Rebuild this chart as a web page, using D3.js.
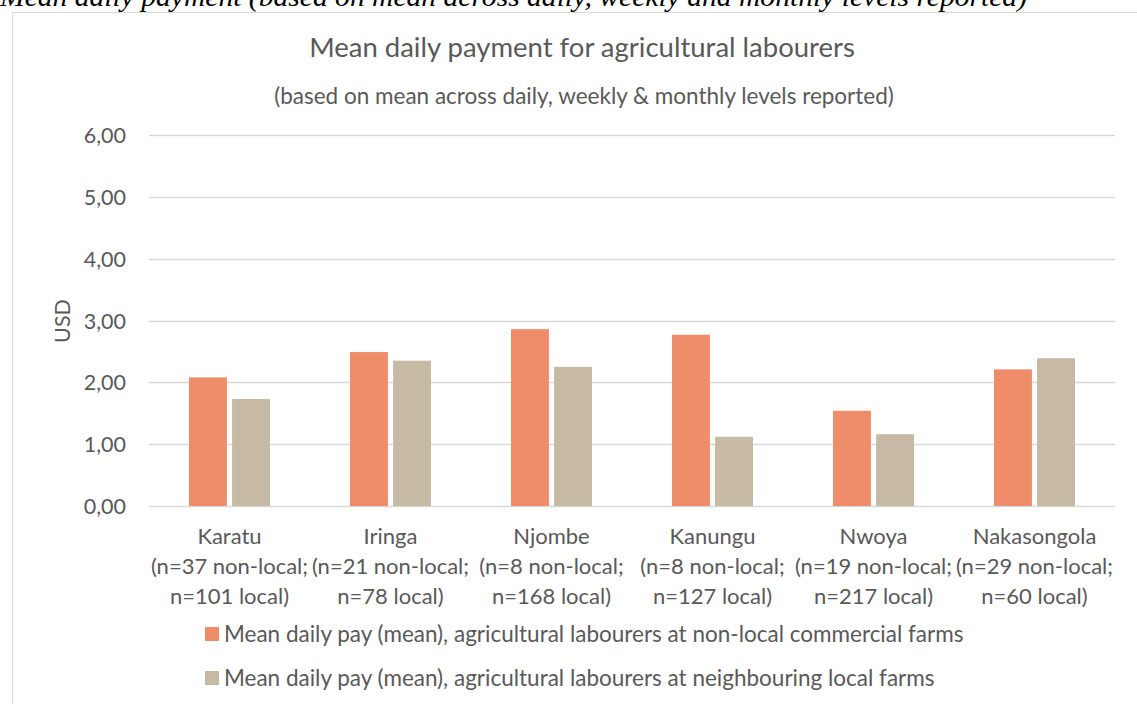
<!DOCTYPE html>
<html>
<head>
<meta charset="utf-8">
<script src="https://cdn.jsdelivr.net/npm/d3@7"></script>
<style>
  body { margin: 0; background: #fff; overflow: hidden; }
  svg { display: block; }
  text { font-family: Lato, "Open Sans", sans-serif; fill: #595959; }
</style>
</head>
<body>
<svg id="chart" width="1137" height="704"></svg>
<script>
// data
let regions = ["Karatu", "Iringa", "Njombe", "Kanungu", "Nwoya", "Nakasongola"];
let sampleLines = [
    ["(n=37 non-local;", "n=101 local)"],
    ["(n=21 non-local;", "n=78 local)"],
    ["(n=8 non-local;", "n=168 local)"],
    ["(n=8 non-local;", "n=127 local)"],
    ["(n=19 non-local;", "n=217 local)"],
    ["(n=29 non-local;", "n=60 local)"]
];
let nonLocalPay = [2.08, 2.49, 2.86, 2.77, 1.54, 2.21];
let localPay = [1.73, 2.35, 2.25, 1.12, 1.16, 2.39];
let seriesNames = [
    "Mean daily pay (mean), agricultural labourers at non-local commercial farms",
    "Mean daily pay (mean), agricultural labourers at neighbouring local farms"
];
let seriesColors = ["#ef8d6b", "#c7baa4"];
let yTicks = [0, 1, 2, 3, 4, 5, 6];

let svg = d3.select("#chart"),
    margin = {top: 135, right: 22, bottom: 198, left: 149},
    width = +svg.attr("width") - margin.left - margin.right,
    height = +svg.attr("height") - margin.top - margin.bottom;

// caption from the document, cut by the top edge
svg.append("text")
    .attr("x", 0)
    .attr("y", 6)
    .attr("textLength", 1027)
    .attr("lengthAdjust", "spacingAndGlyphs")
    .style("font-family", "'Liberation Serif', serif")
    .style("font-style", "italic")
    .style("font-size", "27px")
    .style("fill", "#000")
    .text("Mean daily payment (based on mean across daily, weekly and monthly levels reported)");

// chart frame
svg.append("rect")
    .attr("x", 12.5)
    .attr("y", 12.5)
    .attr("width", 1200)
    .attr("height", 800)
    .attr("fill", "none")
    .attr("stroke", "#d9d9d9");

svg.append("text")
    .attr("x", 582)
    .attr("y", 57)
    .attr("text-anchor", "middle")
    .style("font-size", "27.5px")
    .text("Mean daily payment for agricultural labourers");

svg.append("text")
    .attr("x", 584)
    .attr("y", 104)
    .attr("text-anchor", "middle")
    .style("font-size", "22.5px")
    .text("(based on mean across daily, weekly & monthly levels reported)");

let g = svg.append("g").attr("transform", "translate(" + margin.left + "," + margin.top + ")");

let x0 = d3.scaleBand()
    .domain(regions)
    .range([0, width]);

let x1 = d3.scaleBand()
    .domain([0, 1])
    .range([40, x0.bandwidth() - 40])
    .paddingInner(0.12);

let y = d3.scaleLinear()
    .domain([0, 6])
    .range([height, 0]);

// gridlines
g.append("g")
    .selectAll("line")
    .data(yTicks)
    .enter().append("line")
    .attr("x1", 0)
    .attr("x2", width)
    .attr("y1", d => Math.round(y(d)) + 0.5)
    .attr("y2", d => Math.round(y(d)) + 0.5)
    .attr("stroke", "#d9d9d9")
    .attr("stroke-width", 1.5);

// y axis labels
let yAxis = g.append("g")
    .attr("transform", "translate(-20,0)")
    .call(d3.axisLeft(y).tickValues(yTicks).tickSize(0).tickFormat(d => d3.format(".2f")(d).replace(".", ",")));
yAxis.select(".domain").remove();
yAxis.selectAll("text")
    .attr("dy", "0.35em")
    .style("font-size", "21.5px")
    .style("font-family", "Lato, sans-serif")
    .style("fill", "#595959");

svg.append("text")
    .attr("transform", "translate(70,321) rotate(-90)")
    .attr("text-anchor", "middle")
    .style("font-size", "21.5px")
    .text("USD");

// bars
let rows = regions.map((r, i) => ({region: r, values: [nonLocalPay[i], localPay[i]]}));

g.append("g")
    .selectAll("g")
    .data(rows)
    .enter().append("g")
    .attr("transform", d => "translate(" + x0(d.region) + ",0)")
    .selectAll("rect")
    .data(d => d.values.map((v, k) => ({k: k, v: v})))
    .enter().append("rect")
    .attr("x", d => x1(d.k))
    .attr("y", d => y(d.v))
    .attr("width", x1.bandwidth())
    .attr("height", d => y(0) - y(d.v))
    .attr("fill", d => seriesColors[d.k]);

// category labels
let cat = g.append("g")
    .selectAll("text")
    .data(regions)
    .enter().append("text")
    .attr("x", d => x0(d) + x0.bandwidth() / 2)
    .attr("y", height + 38)
    .attr("text-anchor", "middle")
    .style("font-size", "22px");

cat.each(function (d, i) {
    let t = d3.select(this);
    let lines = [d].concat(sampleLines[i]);
    lines.forEach((l, j) => {
        t.append("tspan")
            .attr("x", x0(d) + x0.bandwidth() / 2)
            .attr("dy", j === 0 ? 0 : 30)
            .text(l);
    });
});

// legend
let legend = svg.append("g")
    .selectAll("g")
    .data(seriesNames)
    .enter().append("g")
    .attr("transform", (d, i) => "translate(205," + (627 + i * 44) + ")");

legend.append("rect")
    .attr("width", 14)
    .attr("height", 14)
    .attr("fill", (d, i) => seriesColors[i]);

legend.append("text")
    .attr("x", 19)
    .attr("y", 7)
    .attr("dy", "0.35em")
    .style("font-size", "22.5px")
    .text(d => d);
</script>
</body>
</html>
